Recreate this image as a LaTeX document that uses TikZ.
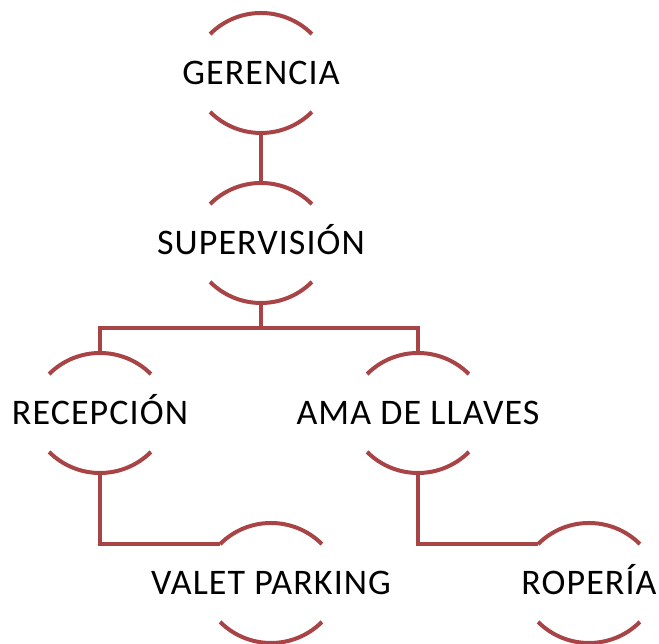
\documentclass[tikz,border=0pt]{standalone}
\usepackage{fontspec}
\setmainfont[LetterSpace=3]{Carlito}
\definecolor{arcred}{HTML}{A94446}
\tikzset{
  arcline/.style={draw=arcred,line width=4pt},
  conline/.style={draw=arcred,line width=4pt,line join=miter},
  lbl/.style={font=\fontsize{36}{36}\selectfont,text=black,inner sep=0pt,anchor=base},
}
\newcommand\orgnode[4]{%
  % #1 name, #2 x, #3 y (image coords), #4 text
  \coordinate (#1) at (#2,644-#3);
  \coordinate (#1-t) at (#2,644-#3+60);
  \coordinate (#1-b) at (#2,644-#3-60);
  \coordinate (#1-tl) at (#2-51,644-#3+39);
  \draw[arcline] ([shift={(45:72)}]#2,644-#3-12) arc[start angle=45,end angle=135,radius=72];
  \draw[arcline] ([shift={(225:72)}]#2,644-#3+12) arc[start angle=225,end angle=315,radius=72];
  \node[lbl] (#1-txt) at ([yshift=-11.4pt]#1) {#4};
}
\begin{document}
\begin{tikzpicture}[x=1pt,y=1pt]
\useasboundingbox (0,0) rectangle (659,644);
\orgnode{G}{261}{73}{GERENCIA}
\orgnode{S}{261}{243}{SUPERVISIÓN}
\orgnode{R}{100}{413}{RECEPCIÓN}
\orgnode{A}{418}{413}{AMA DE LLAVES}
\orgnode{V}{271}{583}{VALET PARKING}
\orgnode{P}{589}{583}{ROPERÍA}
\draw[conline] (G-b) -- (S-t);
\draw[conline] (S-b) -- ++(0,-25) -| (R-t);
\draw[conline] (S-b) -- ++(0,-25) -| (A-t);
\draw[conline] (R-b) |- (V-tl);
\draw[conline] (A-b) |- (P-tl);
\end{tikzpicture}
\end{document}
